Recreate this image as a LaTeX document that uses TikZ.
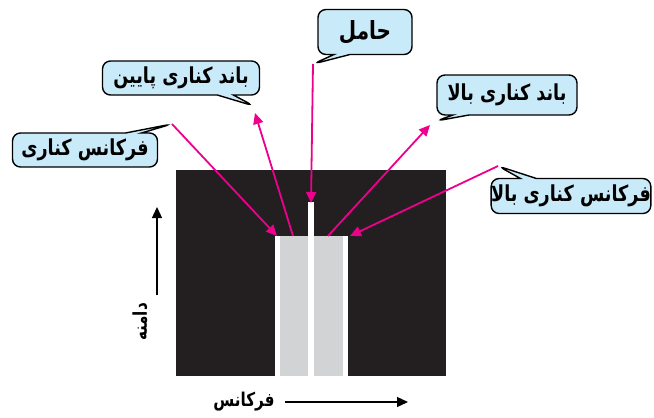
\documentclass[tikz,border=0pt]{standalone}
\usepackage{fontspec}
\usetikzlibrary{shapes.callouts,arrows.meta}
\TeXXeTstate=1
\newfontfamily\fa[Script=Arabic,FakeStretch=0.8]{DejaVu Sans}
\definecolor{cbg}{HTML}{C9EAF8}
\definecolor{mag}{HTML}{EC008C}
\definecolor{blk}{HTML}{231F20}
\definecolor{gry}{HTML}{D1D3D4}
\begin{document}
\begin{tikzpicture}[x=1pt,y=-1pt,
 bubble/.style={rectangle callout, rounded corners=8pt, fill=cbg, draw=black, line width=1.4pt, inner sep=0pt, font=\fa\bfseries\fontsize{22}{25}\selectfont, callout pointer width=16pt},
 magarrow/.style={draw=mag, line width=1.8pt, -{Triangle[length=11pt,width=10pt]}},
 axarrow/.style={draw=black, line width=1.3pt, -{Triangle[length=11pt,width=10pt]}},
 lbl/.style={font=\fa\bfseries\fontsize{19}{22}\selectfont, inner sep=0pt}]
\useasboundingbox (0,0) rectangle (654,418);
% spectrum block
\fill[blk] (176,170) rectangle (446,376);
\fill[white] (275,236) rectangle (348,376);
\fill[gry] (280,236) rectangle (308,376);
\fill[gry] (314,236) rectangle (343,376);
\fill[white] (308,202) rectangle (314,376);
% tail tips
\coordinate (tC) at (313,64);
\coordinate (tL) at (254,106);
\coordinate (tE) at (172,124);
\coordinate (tU) at (436,121);
\coordinate (tF) at (498,166);
% targets
\coordinate (aC) at (311,203);
\coordinate (aL) at (293,236);
\coordinate (aE) at (277,236);
\coordinate (aU) at (328,236);
\coordinate (aF) at (350,236);
% callouts
\node[bubble, minimum width=94pt, minimum height=45pt, callout absolute pointer={(tC)}, font=\fa\bfseries\fontsize{25}{28}\selectfont] (bC) at (365,32) {\beginR حامل\endR};
\node[bubble, minimum width=157pt, minimum height=34pt, callout absolute pointer={(tL)}] (bL) at (181,78) {\beginR باند کناری پایین\endR};
\node[bubble, minimum width=145pt, minimum height=34pt, callout absolute pointer={(tE)}] (bE) at (85,150) {\beginR فرکانس کناری\endR};
\node[bubble, minimum width=140pt, minimum height=40pt, callout absolute pointer={(tU)}] (bU) at (507,95) {\beginR باند کناری بالا\endR};
\node[bubble, minimum width=158pt, minimum height=35pt, callout absolute pointer={(tF)}] (bF) at (571,196) {\beginR فرکانس کناری بالا\endR};
% connectors
\draw[magarrow] (tC) -- (aC);
\draw[magarrow] (aL) -- (255,113);
\draw[magarrow] (tE) -- (aE);
\draw[magarrow] (aU) -- (430,125);
\draw[magarrow] (tF) -- (aF);
% axes
\coordinate (vs) at (157,295);
\coordinate (ve) at (157,207);
\draw[axarrow] (vs) -- (ve);
\node[lbl, rotate=90] (amp) at (140,322) {\beginR دامنه\endR};
\coordinate (hs) at (285,402);
\coordinate (he) at (408,402);
\draw[axarrow] (hs) -- (he);
\node[lbl] (freq) at (244,402) {\beginR فرکانس\endR};
\end{tikzpicture}
\end{document}
